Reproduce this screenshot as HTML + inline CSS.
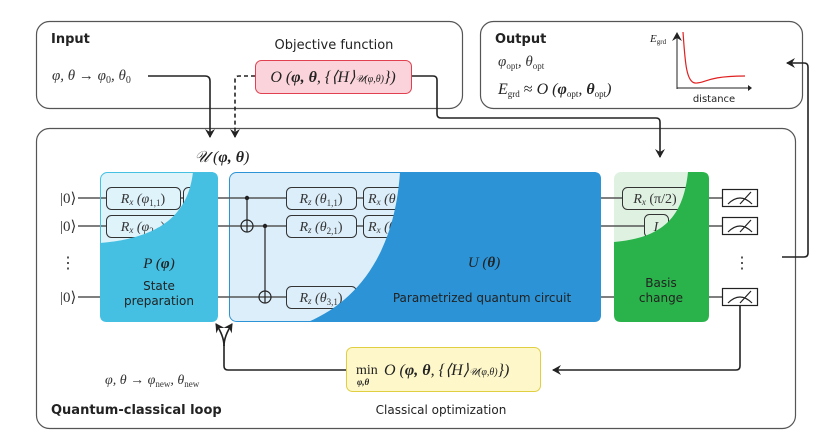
<!DOCTYPE html>
<html><head><meta charset="utf-8"><style>
html,body{margin:0;padding:0;background:#fff;}
svg{display:block;}
.s{font-family:"DejaVu Sans","Liberation Sans",sans-serif;}
.m{font-family:"Liberation Serif",serif;font-style:italic;}
</style></head><body>
<svg width="827" height="440" viewBox="0 0 827 440" xmlns="http://www.w3.org/2000/svg">
<defs>
<marker id="ar" markerWidth="10" markerHeight="10" refX="8" refY="5" orient="auto" markerUnits="userSpaceOnUse">
<path d="M0,0 L9,5 L0,10 L3,5 Z" fill="#222"/></marker>
</defs>
<rect x="36.5" y="21.5" width="426" height="87" rx="13" fill="none" stroke="#555" stroke-width="1.2"/>
<rect x="480.5" y="21.5" width="322" height="87" rx="13" fill="none" stroke="#555" stroke-width="1.2"/>
<rect x="36.5" y="128.5" width="759" height="300" rx="13" fill="none" stroke="#555" stroke-width="1.2"/>

<text x="51" y="43" class="s" font-size="13" font-weight="bold" fill="#222">Input</text>
<text x="334" y="49" class="s" font-size="13" fill="#222" text-anchor="middle">Objective function</text>
<rect x="255.5" y="60.5" width="156" height="33" rx="6" fill="#fbd3da" stroke="#e0404f" stroke-width="1"/>
<text x="333" y="82" class="m" font-size="16" fill="#222" text-anchor="middle">O (<tspan font-weight="bold">φ, θ</tspan>, {⟨H⟩<tspan font-size="10">𝒰(φ,θ)</tspan>})</text>
<text x="52" y="80" class="m" font-size="15" fill="#333">φ, θ → φ<tspan font-size="10" dy="3" font-style="normal">0</tspan><tspan dy="-3">, θ</tspan><tspan font-size="10" dy="3" font-style="normal">0</tspan></text>

<path d="M148,76 L205,76 Q210,76 210,81 L210,137" fill="none" stroke="#222" stroke-width="1.6" marker-end="url(#ar)"/>
<path d="M255,76 L239,76 Q235,76 235,80 L235,137" fill="none" stroke="#222" stroke-width="1.6" stroke-dasharray="4,3" marker-end="url(#ar)"/>
<path d="M412,76 L433,76 Q437,76 437,80 L437,114 Q437,118 441,118 L656,118 Q660,118 660,122 L660,157" fill="none" stroke="#222" stroke-width="1.6" marker-end="url(#ar)"/>
<text x="222" y="162" class="m" font-size="16" fill="#222" text-anchor="middle">𝒰 (<tspan font-weight="bold">φ, θ</tspan>)</text>

<text x="495" y="43" class="s" font-size="13" font-weight="bold" fill="#222">Output</text>
<text x="498" y="66" class="m" font-size="15" fill="#333">φ<tspan font-size="9" dy="3" font-style="normal">opt</tspan><tspan dy="-3">, θ</tspan><tspan font-size="9" dy="3" font-style="normal">opt</tspan></text>
<text x="498" y="94" class="m" font-size="16" fill="#222">E<tspan font-size="9" dy="3" font-style="normal">grd</tspan><tspan dy="-3" font-style="normal"> ≈ </tspan>O (<tspan font-weight="bold">φ</tspan><tspan font-size="9" dy="3" font-style="normal">opt</tspan><tspan dy="-3">, </tspan><tspan font-weight="bold">θ</tspan><tspan font-size="9" dy="3" font-style="normal">opt</tspan><tspan dy="-3">)</tspan></text>
<text x="650" y="42" class="m" font-size="11" fill="#222">E<tspan font-size="7" dy="2" font-style="normal">grd</tspan></text>
<path d="M677,89 L677,33" stroke="#222" stroke-width="1" marker-end="url(#ar)" fill="none"/>
<path d="M677,88 L750,88" stroke="#222" stroke-width="1" fill="none"/>
<path d="M748,85 L752,88 L748,91 Z" fill="#222"/>
<path d="M683,32 C685,60 686,82 695,83 C705,84 705,76 745,76" stroke="#e02020" stroke-width="1.2" fill="none"/>
<text x="714" y="102" class="s" font-size="10" fill="#222" text-anchor="middle">distance</text>

<path d="M782,257 L804,257 Q808,257 808,253 L808,67 Q808,63 804,63 L787,63" fill="none" stroke="#222" stroke-width="1.6" marker-end="url(#ar)"/>

<!-- light box fills -->
<rect x="100" y="172" width="118" height="150" rx="7" fill="#dff3fb"/>
<rect x="229.5" y="172.5" width="371" height="149" rx="7" fill="#dceefa" stroke="#2b93d6"/>
<rect x="614" y="172" width="95" height="150" rx="7" fill="#dff2e2"/>

<!-- wires -->
<g stroke="#555" stroke-width="1.5">
<line x1="78" y1="198" x2="722" y2="198"/>
<line x1="78" y1="226" x2="722" y2="226"/>
<line x1="78" y1="297" x2="722" y2="297"/>
</g>
<text x="60" y="203" font-size="15" fill="#333" font-family="Liberation Serif">|0⟩</text>
<text x="60" y="231" font-size="15" fill="#333" font-family="Liberation Serif">|0⟩</text>
<text x="60" y="302" font-size="15" fill="#333" font-family="Liberation Serif">|0⟩</text>
<text x="60" y="268" font-size="16" fill="#333" font-family="Liberation Serif">⋮</text>

<!-- state prep gates -->
<g fill="#dff3fb" stroke="#333" stroke-width="1">
<rect x="106.5" y="187.5" width="74" height="22" rx="5"/>
<rect x="106.5" y="215.5" width="74" height="22" rx="5"/>
<rect x="183.5" y="187.5" width="30" height="22" rx="5"/>
</g>
<text x="143" y="203" class="m" font-size="14" fill="#333" text-anchor="middle">R<tspan font-size="9" dy="2">x</tspan><tspan dy="-2"> (φ</tspan><tspan font-size="9" dy="3" font-style="normal">1,1</tspan><tspan dy="-3" font-style="normal">)</tspan></text>
<text x="143" y="231" class="m" font-size="14" fill="#333" text-anchor="middle">R<tspan font-size="9" dy="2">x</tspan><tspan dy="-2"> (φ</tspan><tspan font-size="9" dy="3" font-style="normal">2,1</tspan><tspan dy="-3" font-style="normal">)</tspan></text>
<path d="M193,172 L211,172 Q218,172 218,179 L218,315 Q218,322 211,322 L107,322 Q100,322 100,315 L100,243 C160,238 188,215 193,172 Z" fill="#45c0e3"/>
<rect x="100.5" y="172.5" width="117" height="149" rx="7" fill="none" stroke="#45c0e3"/>
<text x="159" y="268" class="m" font-size="15" fill="#222" text-anchor="middle">P (<tspan font-weight="bold">φ</tspan>)</text>
<text x="159" y="290" class="s" font-size="12" fill="#222" text-anchor="middle">State</text>
<text x="159" y="305" class="s" font-size="12" fill="#222" text-anchor="middle">preparation</text>

<!-- Parametrized -->
<g stroke="#222" stroke-width="1.2" fill="none">
<line x1="247" y1="198" x2="247" y2="232"/>
<circle cx="247" cy="226" r="6"/>
<line x1="265" y1="226" x2="265" y2="303"/>
<circle cx="265" cy="297" r="6"/>
</g>
<circle cx="247" cy="198" r="2.2" fill="#222"/>
<circle cx="265" cy="226" r="2.2" fill="#222"/>
<g fill="#dceefa" stroke="#333" stroke-width="1">
<rect x="286.5" y="187.5" width="70" height="22" rx="5"/>
<rect x="286.5" y="215.5" width="70" height="22" rx="5"/>
<rect x="286.5" y="286.5" width="70" height="22" rx="5"/>
<rect x="363.5" y="187.5" width="60" height="22" rx="5"/>
<rect x="363.5" y="215.5" width="60" height="22" rx="5"/>
</g>
<text x="321" y="203" class="m" font-size="14" fill="#333" text-anchor="middle">R<tspan font-size="9" dy="2">z</tspan><tspan dy="-2"> (θ</tspan><tspan font-size="9" dy="3" font-style="normal">1,1</tspan><tspan dy="-3" font-style="normal">)</tspan></text>
<text x="321" y="231" class="m" font-size="14" fill="#333" text-anchor="middle">R<tspan font-size="9" dy="2">z</tspan><tspan dy="-2"> (θ</tspan><tspan font-size="9" dy="3" font-style="normal">2,1</tspan><tspan dy="-3" font-style="normal">)</tspan></text>
<text x="321" y="302" class="m" font-size="14" fill="#333" text-anchor="middle">R<tspan font-size="9" dy="2">z</tspan><tspan dy="-2"> (θ</tspan><tspan font-size="9" dy="3" font-style="normal">3,1</tspan><tspan dy="-3" font-style="normal">)</tspan></text>
<text x="368" y="203" class="m" font-size="14" fill="#333">R<tspan font-size="9" dy="2">x</tspan><tspan dy="-2"> (θ</tspan></text>
<text x="368" y="231" class="m" font-size="14" fill="#333">R<tspan font-size="9" dy="2">x</tspan><tspan dy="-2"> (θ</tspan></text>
<path d="M400,172 L594,172 Q601,172 601,179 L601,315 Q601,322 594,322 L308,322 C360,300 395,250 400,172 Z" fill="#2b93d6"/>
<text x="484" y="267" class="m" font-size="15" fill="#222" text-anchor="middle">U (<tspan font-weight="bold">θ</tspan>)</text>
<text x="482" y="302" class="s" font-size="12" fill="#222" text-anchor="middle">Parametrized quantum circuit</text>

<!-- Basis change -->
<rect x="622.5" y="187.5" width="70" height="22" rx="5" fill="#dff2e2" stroke="#333"/>
<text x="655" y="203" class="m" font-size="14" fill="#333" text-anchor="middle">R<tspan font-size="9" dy="2">x</tspan><tspan dy="-2" font-style="normal"> (π/2)</tspan></text>
<rect x="644.5" y="214.5" width="24" height="23" rx="5" fill="#dff2e2" stroke="#333"/>
<text x="656" y="231" class="m" font-size="14" fill="#333" text-anchor="middle">I</text>
<path d="M688,172 L702,172 Q709,172 709,179 L709,315 Q709,322 702,322 L621,322 Q614,322 614,315 L614,242 C660,238 683,220 688,172 Z" fill="#2ab34a"/>
<text x="661" y="287" class="s" font-size="12" fill="#222" text-anchor="middle">Basis</text>
<text x="661" y="302" class="s" font-size="12" fill="#222" text-anchor="middle">change</text>

<!-- meters -->
<g stroke="#222" stroke-width="1.2" fill="#fff">
<rect x="722.5" y="189.5" width="35" height="17"/>
<rect x="722.5" y="217.5" width="35" height="17"/>
<rect x="722.5" y="288.5" width="35" height="17"/>
</g>
<g stroke="#222" stroke-width="1.2" fill="none">
<path d="M728,204 Q740,192 752,204"/><path d="M740,204 L751,192"/>
<path d="M728,232 Q740,220 752,232"/><path d="M740,232 L751,220"/>
<path d="M728,303 Q740,291 752,303"/><path d="M740,303 L751,291"/>
</g>
<text x="734" y="268" font-size="16" fill="#333" font-family="Liberation Serif">⋮</text>
<path d="M740,306 L740,366 Q740,370 736,370 L553,370" fill="none" stroke="#222" stroke-width="1.6" marker-end="url(#ar)"/>

<!-- Classical optimization -->
<rect x="346.5" y="347.5" width="194" height="44" rx="6" fill="#fdf7c9" stroke="#e0cf40"/>
<text x="356" y="374" font-size="14" fill="#222" font-family="Liberation Serif">min</text>
<text x="357" y="385" class="m" font-size="9" fill="#222" font-weight="bold">φ,θ</text>
<text x="384" y="375" class="m" font-size="16" fill="#222">O (<tspan font-weight="bold">φ, θ</tspan>, {⟨H⟩<tspan font-size="10">𝒰(φ,θ)</tspan>})</text>
<path d="M346,370 L228,370 Q224,370 224,366 L224,345" fill="none" stroke="#222" stroke-width="1.6"/>
<path d="M224,346 Q224,336 216,324" fill="none" stroke="#222" stroke-width="1.6" marker-end="url(#ar)"/>
<path d="M224,346 Q224,336 232,324" fill="none" stroke="#222" stroke-width="1.6" marker-end="url(#ar)"/>
<text x="105" y="384" class="m" font-size="14" fill="#333">φ, θ → φ<tspan font-size="9" dy="3" font-style="normal">new</tspan><tspan dy="-3">, θ</tspan><tspan font-size="9" dy="3" font-style="normal">new</tspan></text>
<text x="51" y="414" class="s" font-size="13" font-weight="bold" fill="#222">Quantum-classical loop</text>
<text x="441" y="414" class="s" font-size="12" fill="#222" text-anchor="middle">Classical optimization</text>
</svg>
</body></html>
